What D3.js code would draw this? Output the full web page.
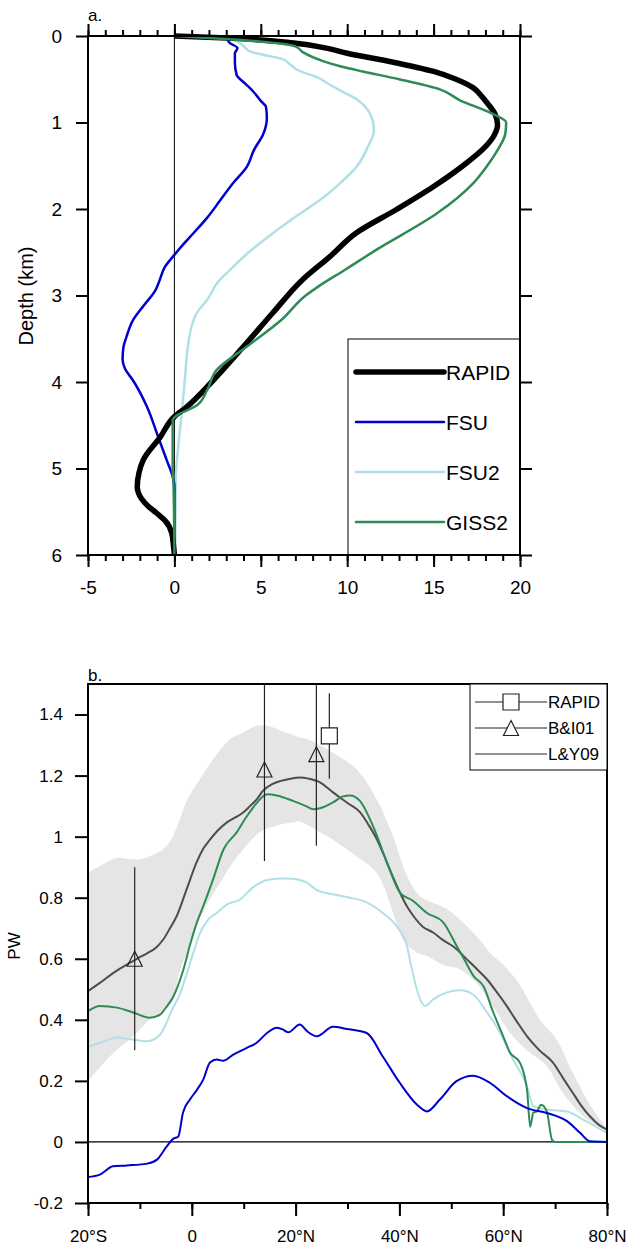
<!DOCTYPE html>
<html>
<head>
<meta charset="utf-8">
<script src="https://cdn.jsdelivr.net/npm/d3@7"></script>
<style>
  body { margin: 0; background: #fff; }
  svg { display: block; font-family: "Liberation Sans", Arial, Helvetica, sans-serif; }
</style>
</head>
<body>
<svg width="627" height="1249"></svg>
<script>
// ---------- panel a : depth profiles (value, depth km) ----------
var rapidDepth = [0, 0.03, 0.08, 0.14, 0.2, 0.3, 0.41, 0.5, 0.6, 0.7, 0.8, 0.9, 1.03, 1.15, 1.28, 1.5, 1.74, 2.0, 2.28, 2.55, 2.82, 3.2, 3.59, 3.98, 4.29, 4.4, 4.64, 4.9, 5.05, 5.21, 5.35, 5.44, 5.52, 5.6, 5.75, 5.9, 6.0];
var rapidVal = [0, 3.8, 6.9, 8.8, 10.0, 12.6, 15.0, 16.3, 17.3, 17.8, 18.2, 18.55, 18.7, 18.5, 18.0, 16.7, 15.0, 12.9, 10.5, 9.0, 7.4, 5.7, 4.0, 2.25, 0.7, 0.0, -0.83, -1.8, -2.05, -2.15, -1.9, -1.5, -1.0, -0.55, -0.15, -0.05, 0];

var fsuDepth = [0, 0.03, 0.08, 0.14, 0.2, 0.3, 0.45, 0.55, 0.65, 0.75, 0.82, 0.95, 1.13, 1.32, 1.51, 1.7, 1.9, 2.1, 2.28, 2.4, 2.53, 2.67, 2.82, 2.94, 3.11, 3.28, 3.47, 3.6, 3.74, 3.85, 3.98, 4.28, 4.64, 4.9, 5.13, 5.2, 6.0];
var fsuVal = [0, 3.0, 3.2, 3.65, 3.5, 3.5, 3.6, 4.1, 4.6, 5.0, 5.3, 5.35, 5.15, 4.6, 4.2, 3.4, 2.65, 1.9, 1.1, 0.55, 0, -0.55, -0.85, -1.1, -1.75, -2.38, -2.76, -2.95, -3.0, -2.85, -2.4, -1.6, -0.93, -0.45, -0.05, 0, 0];

var fsu2Depth = [0, 0.04, 0.1, 0.18, 0.22, 0.27, 0.33, 0.39, 0.49, 0.54, 0.62, 0.74, 0.89, 1.09, 1.28, 1.51, 1.7, 1.9, 2.05, 2.28, 2.5, 2.67, 2.85, 3.05, 3.2, 3.44, 3.98, 4.36, 4.75, 5.13, 6.0];
var fsu2Val = [0, 3.4, 3.9, 4.4, 5.2, 6.3, 6.7, 7.1, 8.4, 8.8, 9.5, 10.6, 11.3, 11.55, 11.2, 10.55, 9.6, 8.4, 7.3, 5.7, 4.3, 3.4, 2.5, 1.9, 1.3, 0.9, 0.6, 0.43, 0.22, 0.08, 0.05];

var giss2Depth = [0, 0.04, 0.12, 0.19, 0.29, 0.35, 0.41, 0.5, 0.62, 0.74, 0.89, 1.0, 1.13, 1.32, 1.5, 1.7, 2.05, 2.47, 2.7, 2.9, 3.0, 3.28, 3.59, 3.86, 4.09, 4.27, 4.4, 4.44, 5.0, 5.2, 6.0];
var giss2Val = [0, 3.4, 7.0, 7.45, 8.6, 9.6, 10.9, 13.0, 15.4, 16.5, 18.3, 19.2, 19.15, 18.7, 18.1, 17.3, 15.2, 11.7, 9.9, 8.3, 7.6, 6.2, 4.2, 2.45, 1.9, 1.3, 0.05, -0.1, -0.1, -0.05, 0];

var aTicksX = [-5, 0, 5, 10, 15, 20];
var aTicksY = [0, 1, 2, 3, 4, 5, 6];
var aNames = ["RAPID", "FSU", "FSU2", "GISS2"];

// ---------- panel b : heat transport (PW) vs latitude ----------
var lyLat = [-20, -17.7, -15.1, -12.5, -10.6, -8.7, -6.8, -5.5, -4.2, -2.9, -1, 0.9, 2.2, 3.5, 5, 6.7, 8.3, 9.9, 11.2, 12.5, 13.7, 15.5, 17, 19, 20.8, 22.5, 24.7, 27.2, 30, 32.4, 34, 35.7, 37, 38.2, 40.1, 41.5, 42.7, 44.5, 46.5, 48.5, 50.4, 53, 55, 56.9, 58.8, 60.7, 62.6, 64.6, 67, 69.6, 71.5, 73.4, 75, 76.7, 78.5, 80];
var lyVal = [0.494, 0.521, 0.554, 0.581, 0.6, 0.617, 0.638, 0.663, 0.7, 0.74, 0.827, 0.915, 0.96, 0.99, 1.02, 1.046, 1.062, 1.079, 1.1, 1.122, 1.15, 1.172, 1.182, 1.19, 1.194, 1.19, 1.178, 1.145, 1.11, 1.08, 1.04, 0.99, 0.94, 0.89, 0.817, 0.77, 0.74, 0.705, 0.686, 0.66, 0.64, 0.598, 0.565, 0.532, 0.49, 0.445, 0.395, 0.346, 0.3, 0.26, 0.21, 0.161, 0.12, 0.084, 0.055, 0.04];

var bandUpLat = [-20, -17.7, -14.4, -12, -10, -8.1, -5.5, -4, -2.3, -0.9, 1.6, 4.1, 7.4, 9.9, 12.5, 14.5, 18.3, 20.8, 22.2, 27.2, 31.8, 35.7, 38.8, 41.5, 44, 49.2, 54.2, 58, 59.4, 62.6, 67.1, 70.3, 73.4, 77.3, 80];
var bandUpVal = [0.883, 0.904, 0.93, 0.926, 0.926, 0.936, 0.959, 0.99, 1.057, 1.12, 1.19, 1.253, 1.32, 1.34, 1.363, 1.363, 1.34, 1.325, 1.32, 1.275, 1.22, 1.12, 1.0, 0.87, 0.805, 0.762, 0.686, 0.61, 0.59, 0.53, 0.40, 0.335, 0.227, 0.106, 0.045];
var bandLoLat = [-20, -15.8, -11.3, -7.4, -6.1, -3.6, -2.3, 0, 1.5, 3.5, 5.5, 7.4, 10, 13.1, 16, 19.5, 20.8, 24.7, 27.2, 31.8, 35.7, 38.8, 40.7, 43.4, 45.3, 48.4, 51.7, 54.9, 58, 61.3, 64.6, 68.4, 71.5, 75.4, 80];
var bandLoVal = [0.199, 0.28, 0.346, 0.41, 0.417, 0.466, 0.56, 0.66, 0.73, 0.795, 0.85, 0.903, 0.96, 1.014, 1.035, 1.047, 1.05, 1.014, 0.99, 0.935, 0.88, 0.75, 0.663, 0.62, 0.61, 0.58, 0.565, 0.52, 0.445, 0.358, 0.30, 0.248, 0.16, 0.084, 0.035];

var gissLat = [-20, -17.7, -14.4, -11.3, -8.1, -6.1, -5, -3.6, -1.7, -0.35, 1, 2.2, 4.1, 6.1, 8.6, 10.6, 12.5, 14.5, 16.4, 19.5, 22, 23.4, 24.7, 27.2, 29.1, 30.5, 32.4, 34.9, 37.6, 40.1, 42.6, 45.3, 48.4, 51.1, 52.3, 54.3, 56.2, 58.1, 60, 61.3, 63.2, 64.6, 65.2, 65.8, 66.5, 67.3, 68.4, 69.4, 70, 80];
var gissVal = [0.428, 0.445, 0.44, 0.424, 0.407, 0.417, 0.44, 0.475, 0.56, 0.645, 0.72, 0.772, 0.86, 0.958, 1.013, 1.067, 1.11, 1.139, 1.135, 1.117, 1.1, 1.09, 1.093, 1.112, 1.132, 1.135, 1.117, 1.035, 0.916, 0.817, 0.79, 0.75, 0.72, 0.64, 0.604, 0.543, 0.51, 0.424, 0.346, 0.293, 0.26, 0.17, 0.05, 0.096, 0.10, 0.122, 0.10, 0.007, 0, 0];

var fsu2Lat = [-20, -17.7, -14.4, -11.3, -8.6, -6.1, -3.6, -2.4, -0.9, 0.3, 1.6, 3, 4.8, 6.8, 9.3, 11.8, 14.5, 17, 19.5, 22.2, 24.1, 27.2, 30.5, 33.7, 36.8, 39.5, 41.5, 42, 44, 44.9, 46.5, 49.2, 51.7, 54.2, 56.9, 59.4, 61.9, 64.6, 65.8, 68.4, 72.3, 75.4, 80];
var fsu2LatVal = [0.311, 0.325, 0.342, 0.335, 0.33, 0.352, 0.44, 0.48, 0.555, 0.62, 0.685, 0.725, 0.75, 0.778, 0.794, 0.834, 0.858, 0.863, 0.862, 0.849, 0.825, 0.811, 0.80, 0.785, 0.75, 0.706, 0.64, 0.598, 0.467, 0.445, 0.467, 0.49, 0.497, 0.483, 0.424, 0.358, 0.27, 0.182, 0.117, 0.106, 0.10, 0.073, 0.03];

var fsuLat = [-20, -17.7, -15.2, -12.5, -8.6, -6.7, -4.8, -3.6, -2.6, -1.7, -0.35, 1, 2.2, 3.5, 4.8, 6, 8, 10.6, 12.5, 14.5, 16.4, 17.6, 18.6, 20.8, 22.2, 24.1, 27.2, 29.9, 33.7, 36.8, 40.1, 43.4, 45.3, 47.8, 51, 54.2, 57.5, 60.7, 64.6, 68.4, 72.3, 74.8, 76.7, 80];
var fsuLatVal = [-0.115, -0.107, -0.08, -0.077, -0.071, -0.058, -0.014, 0.01, 0.018, 0.096, 0.139, 0.171, 0.204, 0.26, 0.27, 0.266, 0.286, 0.308, 0.325, 0.357, 0.374, 0.368, 0.359, 0.385, 0.363, 0.346, 0.377, 0.37, 0.357, 0.28, 0.193, 0.122, 0.10, 0.139, 0.199, 0.217, 0.193, 0.15, 0.111, 0.095, 0.068, 0.03, 0.002, 0];

// observations with error bars
var biLat = [-11, 14, 24];
var biVal = [0.6, 1.22, 1.27];
var biErr = [0.3, 0.3, 0.3];
var rapLat = [26.5];
var rapVal = [1.33];
var rapErr = [0.14];

var bTicksX = [-20, 0, 20, 40, 60, 80];
var bTickLabels = ["20°S", "0", "20°N", "40°N", "60°N", "80°N"];
var bTicksY = [-0.2, 0, 0.2, 0.4, 0.6, 0.8, 1, 1.2, 1.4];
var bNames = ["RAPID", "B&I01", "L&Y09"];

var cBlack = "#000000", cBlue = "#0000cd", cPowder = "#b0e0e6", cGreen = "#2e8b57", cGray = "#4d4d4d";

var svg = d3.select("svg");

function zip(a, b) { return a.map(function (v, i) { return [v, b[i]]; }); }
// plain hyphen for negatives, like the original
function plainNum(d) { return String(+d.toFixed(1)); }

// ================= panel a =================
var xa = d3.scaleLinear().domain([-5, 20]).range([88, 520]);
var ya = d3.scaleLinear().domain([0, 6]).range([36, 555]);
var ga = svg.append("g");

ga.append("line")
    .attr("x1", xa(0)).attr("x2", xa(0))
    .attr("y1", ya(0)).attr("y2", ya(6))
    .attr("stroke", "#000").attr("stroke-width", 1);

var profLine = d3.line()
    .x(function (d) { return xa(d[0]); })
    .y(function (d) { return ya(d[1]); })
    .curve(d3.curveMonotoneY);

var aSeries = [
    { v: fsu2Val, d: fsu2Depth, c: cPowder, w: 2.5 },
    { v: fsuVal, d: fsuDepth, c: cBlue, w: 2.5 },
    { v: rapidVal, d: rapidDepth, c: cBlack, w: 5.5 },
    { v: giss2Val, d: giss2Depth, c: cGreen, w: 2.5 }
];
aSeries.forEach(function (s) {
    ga.append("path")
        .attr("d", profLine(zip(s.v, s.d)))
        .attr("fill", "none")
        .attr("stroke", s.c)
        .attr("stroke-width", s.w)
        .attr("stroke-linejoin", "round");
});

// axes panel a
function styleAxis(g, size) {
    g.select(".domain").remove();
    g.selectAll("line").attr("stroke", "#000").attr("stroke-width", 2);
    g.selectAll("text").attr("font-size", size).attr("fill", "#000")
        .attr("font-family", "Liberation Sans, Arial, sans-serif");
}
var minorA = d3.range(-5, 21, 1);
ga.append("g").attr("transform", "translate(0,555)")
    .call(d3.axisBottom(xa).tickValues(minorA).tickSize(6).tickFormat(""))
    .call(styleAxis, 19);
ga.append("g").attr("transform", "translate(0,36)")
    .call(d3.axisTop(xa).tickValues(minorA).tickSize(6).tickFormat(""))
    .call(styleAxis, 19);
ga.append("g").attr("transform", "translate(0,555)")
    .call(d3.axisBottom(xa).tickValues(aTicksX).tickSize(12).tickPadding(14).tickFormat(plainNum))
    .call(styleAxis, 19);
ga.append("g").attr("transform", "translate(0,36)")
    .call(d3.axisTop(xa).tickValues(aTicksX).tickSize(12).tickFormat(""))
    .call(styleAxis, 19);
ga.append("g").attr("transform", "translate(88,0)")
    .call(d3.axisLeft(ya).tickValues(aTicksY).tickSize(12).tickPadding(14).tickFormat(plainNum))
    .call(styleAxis, 19);
ga.append("g").attr("transform", "translate(520,0)")
    .call(d3.axisRight(ya).tickValues(aTicksY).tickSize(12).tickFormat(""))
    .call(styleAxis, 19);

ga.append("rect")
    .attr("x", 88).attr("y", 36).attr("width", 520 - 88).attr("height", 555 - 36)
    .attr("fill", "none").attr("stroke", "#000").attr("stroke-width", 2);

ga.append("text").attr("x", 88).attr("y", 21).attr("font-size", 17).text("a.");
ga.append("text")
    .attr("transform", "translate(33,296) rotate(-90)")
    .attr("text-anchor", "middle").attr("font-size", 20)
    .text("Depth (km)");

// legend panel a
var legA = ga.append("g");
legA.append("rect")
    .attr("x", 348).attr("y", 339).attr("width", 172).attr("height", 216)
    .attr("fill", "#fff").attr("stroke", "#000").attr("stroke-width", 1);
var legAColors = [cBlack, cBlue, cPowder, cGreen];
var legAWidth = [5.5, 2.5, 2.5, 2.5];
aNames.forEach(function (n, i) {
    var yy = 372 + i * 50;
    legA.append("line")
        .attr("x1", 356).attr("x2", 444).attr("y1", yy).attr("y2", yy)
        .attr("stroke", legAColors[i]).attr("stroke-width", legAWidth[i])
        .attr("stroke-linecap", "round");
    legA.append("text")
        .attr("x", 446).attr("y", yy + 8)
        .attr("font-size", 21).text(n);
});
// redraw frame edges over legend box
ga.append("line").attr("x1", 520).attr("x2", 520).attr("y1", 36).attr("y2", 555)
    .attr("stroke", "#000").attr("stroke-width", 2);
ga.append("line").attr("x1", 88).attr("x2", 520).attr("y1", 555).attr("y2", 555)
    .attr("stroke", "#000").attr("stroke-width", 2);

// ================= panel b =================
var xb = d3.scaleLinear().domain([-20, 80]).range([88, 607]);
var yb = d3.scaleLinear().domain([-0.2, 1.5]).range([1203, 684]);
var gb = svg.append("g");

svg.append("clipPath").attr("id", "clipb")
    .append("rect").attr("x", 88).attr("y", 684).attr("width", 607 - 88).attr("height", 1203 - 684);
var plotB = gb.append("g").attr("clip-path", "url(#clipb)");

var crLine = d3.line()
    .x(function (d) { return xb(d[0]); })
    .y(function (d) { return yb(d[1]); })
    .curve(d3.curveCatmullRom);
var upPath = crLine(zip(bandUpLat, bandUpVal));
var loPath = crLine(zip(bandLoLat, bandLoVal).reverse());
plotB.append("path")
    .attr("d", upPath + loPath.replace(/^M/, "L") + "Z")
    .attr("fill", "#e5e5e5").attr("stroke", "none");

plotB.append("line")
    .attr("x1", xb(-20)).attr("x2", xb(80)).attr("y1", yb(0)).attr("y2", yb(0))
    .attr("stroke", "#000").attr("stroke-width", 1.2);

var latLine = d3.line()
    .x(function (d) { return xb(d[0]); })
    .y(function (d) { return yb(d[1]); })
    .curve(d3.curveMonotoneX);

var bSeries = [
    { la: fsu2Lat, v: fsu2LatVal, c: cPowder },
    { la: lyLat, v: lyVal, c: cGray },
    { la: gissLat, v: gissVal, c: cGreen },
    { la: fsuLat, v: fsuLatVal, c: cBlue }
];
bSeries.forEach(function (s) {
    plotB.append("path")
        .attr("d", latLine(zip(s.la, s.v)))
        .attr("fill", "none").attr("stroke", s.c).attr("stroke-width", 2)
        .attr("stroke-linejoin", "round");
});

// error bars and markers
var triPath = "M0,-7.5L7.5,7.5L-7.5,7.5Z";
var sqPath = "M-8,-8H8V8H-8Z";
biLat.forEach(function (la, i) {
    plotB.append("line")
        .attr("x1", xb(la)).attr("x2", xb(la))
        .attr("y1", yb(biVal[i] - biErr[i])).attr("y2", yb(biVal[i] + biErr[i]))
        .attr("stroke", "#222").attr("stroke-width", 1.2);
    plotB.append("path")
        .attr("d", triPath)
        .attr("transform", "translate(" + xb(la) + "," + yb(biVal[i]) + ")")
        .attr("fill", "none").attr("stroke", "#222").attr("stroke-width", 1.2);
});
rapLat.forEach(function (la, i) {
    plotB.append("line")
        .attr("x1", xb(la)).attr("x2", xb(la))
        .attr("y1", yb(rapVal[i] - rapErr[i])).attr("y2", yb(rapVal[i] + rapErr[i]))
        .attr("stroke", "#222").attr("stroke-width", 1.2);
    plotB.append("path")
        .attr("d", sqPath)
        .attr("transform", "translate(" + xb(la) + "," + yb(rapVal[i]) + ")")
        .attr("fill", "#fff").attr("stroke", "#222").attr("stroke-width", 1.2);
});

// axes panel b
var minorB = d3.range(-20, 81, 10);
gb.append("g").attr("transform", "translate(0,1203)")
    .call(d3.axisBottom(xb).tickValues(minorB).tickSize(6).tickFormat(""))
    .call(styleAxis, 17);
gb.append("g").attr("transform", "translate(0,1203)")
    .call(d3.axisBottom(xb).tickValues(bTicksX).tickSize(13).tickPadding(14)
        .tickFormat(function (d, i) { return bTickLabels[i]; }))
    .call(styleAxis, 17);
gb.append("g").attr("transform", "translate(88,0)")
    .call(d3.axisLeft(yb).tickValues(bTicksY).tickSize(13).tickPadding(12).tickFormat(plainNum))
    .call(styleAxis, 17);

gb.append("rect")
    .attr("x", 88).attr("y", 684).attr("width", 607 - 88).attr("height", 1203 - 684)
    .attr("fill", "none").attr("stroke", "#000").attr("stroke-width", 2);

gb.append("text").attr("x", 88).attr("y", 681).attr("font-size", 17).text("b.");
gb.append("text")
    .attr("transform", "translate(20,946) rotate(-90)")
    .attr("text-anchor", "middle").attr("font-size", 17)
    .text("PW");

// legend panel b
var legB = gb.append("g");
legB.append("rect")
    .attr("x", 470).attr("y", 684).attr("width", 137).attr("height", 86)
    .attr("fill", "#fff").attr("stroke", "#000").attr("stroke-width", 1);
var legBMarks = [sqPath, triPath, null];
bNames.forEach(function (n, i) {
    var yy = 702 + i * 26;
    legB.append("line")
        .attr("x1", 475).attr("x2", 547).attr("y1", yy).attr("y2", yy)
        .attr("stroke", "#222").attr("stroke-width", 1.2);
    if (legBMarks[i]) {
        legB.append("path")
            .attr("d", legBMarks[i])
            .attr("transform", "translate(511," + yy + ")")
            .attr("fill", "#fff").attr("stroke", "#222").attr("stroke-width", 1.2);
    }
    legB.append("text")
        .attr("x", 548).attr("y", yy + 6)
        .attr("font-size", 17).text(n);
});
</script>
</body>
</html>
